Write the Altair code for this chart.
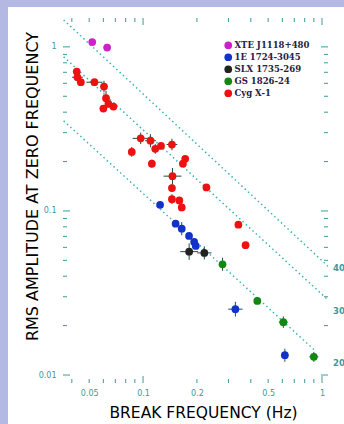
import altair as alt
import pandas as pd
import numpy as np

# ---------------- data ----------------
sources = ["XTE J1118+480", "1E 1724-3045", "SLX 1735-269", "GS 1826-24", "Cyg X-1"]
colors = ["#cc22cc", "#1133cc", "#222222", "#118811", "#ee1111"]
sizes = [60, 60, 8, 60, 60]

xte_f = [0.052, 0.063]
xte_rms = [1.07, 0.99]
xte_xe = [0.012, 0.012]
xte_ye = [0.015, 0.02]

cyg_f = [0.0426, 0.043, 0.0449, 0.0535, 0.0605, 0.0621, 0.064, 0.0683, 0.060,
         0.097, 0.110, 0.117, 0.126, 0.145, 0.0865, 0.112, 0.172, 0.167, 0.146,
         0.145, 0.226, 0.145, 0.1595, 0.1645, 0.341, 0.374]
cyg_rms = [0.707, 0.653, 0.609, 0.609, 0.573, 0.487, 0.449, 0.433, 0.421,
           0.277, 0.268, 0.239, 0.249, 0.254, 0.229, 0.194, 0.208, 0.194, 0.163,
           0.138, 0.139, 0.118, 0.116, 0.105, 0.0825, 0.0618]
cyg_xe = [0.01, 0.03, 0.01, 0.045, 0.02, 0.015, 0.015, 0.01, 0.01, 0.045, 0.03,
          0.02, 0.015, 0.03, 0.015, 0.015, 0.01, 0.01, 0.05, 0.01, 0.01, 0.01,
          0.01, 0.01, 0.01, 0.01]
cyg_ye = [0.015, 0.015, 0.02, 0.02, 0.035, 0.045, 0.02, 0.015, 0.015, 0.035,
          0.04, 0.03, 0.02, 0.035, 0.03, 0.025, 0.015, 0.015, 0.05, 0.025, 0.015,
          0.03, 0.015, 0.015, 0.015, 0.01]

e1e_f = [0.1245, 0.152, 0.1645, 0.1807, 0.193, 0.197, 0.328, 0.62]
e1e_rms = [0.109, 0.0837, 0.078, 0.0704, 0.0647, 0.0612, 0.0252, 0.0132]
e1e_xe = [0.01, 0.01, 0.015, 0.01, 0.01, 0.01, 0.04, 0.02]
e1e_ye = [0.01, 0.015, 0.04, 0.015, 0.01, 0.01, 0.045, 0.04]

slx_f = [0.181, 0.22]
slx_rms = [0.0565, 0.0555]
slx_xe = [0.05, 0.04]
slx_ye = [0.05, 0.04]

gs_f = [0.278, 0.435, 0.608, 0.90]
gs_rms = [0.0473, 0.0283, 0.021, 0.0129]
gs_xe = [0.01, 0.01, 0.025, 0.025]
gs_ye = [0.04, 0.01, 0.035, 0.03]

# dotted reference lines (end points)
line_id = ["A", "A", "B", "B", "C", "C"]
line_f = [0.036, 1.08, 0.036, 1.08, 0.036, 0.92]
line_rms = [1.46, 0.046, 0.87, 0.0287, 0.354, 0.0140]

x_labels = [0.05, 0.1, 0.2, 0.5, 1]
y_labels = [0.01, 0.1, 1]
x_major = [0.1, 1]
x_minor = [0.04, 0.05, 0.06, 0.07, 0.08, 0.09, 0.2, 0.3, 0.4, 0.5, 0.6, 0.7, 0.8, 0.9]
y_major = [0.01, 0.1, 1]
y_minor = [0.02, 0.03, 0.04, 0.05, 0.06, 0.07, 0.08, 0.09,
           0.2, 0.3, 0.4, 0.5, 0.6, 0.7, 0.8, 0.9]
right_labels = ["40", "30", "20"]

# ---------------- tables ----------------
rows = []
for name, F, R, XE, YE in [
    ("XTE J1118+480", xte_f, xte_rms, xte_xe, xte_ye),
    ("Cyg X-1", cyg_f, cyg_rms, cyg_xe, cyg_ye),
    ("1E 1724-3045", e1e_f, e1e_rms, e1e_xe, e1e_ye),
    ("SLX 1735-269", slx_f, slx_rms, slx_xe, slx_ye),
    ("GS 1826-24", gs_f, gs_rms, gs_xe, gs_ye),
]:
    for f, r, xe, ye in zip(F, R, XE, YE):
        rows.append(dict(source=name, f=f, rms=r,
                         flo=f / 10 ** xe, fhi=f * 10 ** xe,
                         rlo=r / 10 ** ye, rhi=r * 10 ** ye))
pts = pd.DataFrame(rows)
lines = pd.DataFrame(dict(line=line_id, f=line_f, rms=line_rms))

W, H = 265, 365
XDOM = [0.0357, 1.08]
YDOM = [0.00894, 1.5]
TEAL = "#3a9c9c"

xs = alt.Scale(type="log", domain=XDOM, nice=False)
ys = alt.Scale(type="log", domain=YDOM, nice=False)

xaxis = alt.Axis(values=x_labels, format="~g", tickSize=0, domain=False, grid=False,
                 labelColor=TEAL, labelFont="DejaVu Sans", labelFontSize=8,
                 labelPadding=6, labelFlush=False, zindex=1,
                 title="BREAK FREQUENCY (Hz)", titleFont="DejaVu Sans",
                 titleFontSize=15.5, titleFontWeight="normal", titleColor="#000000",
                 titleX=140, titleY=29, titleAlign="center", titleBaseline="middle")
yaxis = alt.Axis(values=y_labels, format="~g", tickSize=0, domain=False, grid=False,
                 labelColor=TEAL, labelFont="DejaVu Sans", labelFontSize=8,
                 labelPadding=7, zindex=1,
                 title="RMS AMPLITUDE AT ZERO FREQUENCY", titleFont="DejaVu Sans",
                 titleFontSize=16, titleFontWeight="normal", titleColor="#000000",
                 titleX=-31, titleY=168, titleAngle=270, titleAlign="center",
                 titleBaseline="middle")

# white panel behind everything
panel = alt.Chart(pd.DataFrame({"a": [0]})).mark_rect(
    color="white", clip=False).encode(
    x=alt.value(-55), x2=alt.value(281), y=alt.value(-11), y2=alt.value(406))

ref_lines = alt.Chart(lines).mark_line(
    color="#3cb4b4", strokeDash=[1.5, 3], strokeWidth=1.5, clip=True).encode(
    x=alt.X("f:Q", scale=xs, axis=xaxis),
    y=alt.Y("rms:Q", scale=ys, axis=yaxis),
    detail="line:N")

ebx = alt.Chart(pts).mark_rule(color="#1d4d4d", strokeWidth=1).encode(
    x=alt.X("flo:Q", scale=xs), x2="fhi:Q", y=alt.Y("rms:Q", scale=ys))
eby = alt.Chart(pts).mark_rule(color="#1d4d4d", strokeWidth=1).encode(
    x=alt.X("f:Q", scale=xs), y=alt.Y("rlo:Q", scale=ys), y2="rhi:Q")

legend = alt.Legend(orient="none", legendX=161, legendY=23, title=None,
                    labelFont="DejaVu Serif", labelFontSize=8.5, labelColor="#222244",
                    labelFontWeight="bold", symbolType="circle", symbolStrokeWidth=0,
                    rowPadding=3, labelOffset=2, padding=0)

points = alt.Chart(pts).mark_point(filled=True, opacity=1).encode(
    x=alt.X("f:Q", scale=xs),
    y=alt.Y("rms:Q", scale=ys),
    color=alt.Color("source:N", scale=alt.Scale(domain=sources, range=colors),
                    legend=legend),
    size=alt.Size("source:N", scale=alt.Scale(domain=sources, range=sizes),
                  legend=legend),
)

def ticks_x(vals, L):
    d = pd.DataFrame({"v": vals})
    b = alt.Chart(d).mark_rule(color=TEAL, strokeWidth=1).encode(
        x=alt.X("v:Q", scale=xs), y=alt.value(H), y2=alt.value(H - L))
    t = alt.Chart(d).mark_rule(color=TEAL, strokeWidth=1).encode(
        x=alt.X("v:Q", scale=xs), y=alt.value(0), y2=alt.value(L))
    return b + t

def ticks_y(vals, L):
    d = pd.DataFrame({"v": vals})
    l = alt.Chart(d).mark_rule(color=TEAL, strokeWidth=1).encode(
        y=alt.Y("v:Q", scale=ys), x=alt.value(0), x2=alt.value(L))
    r = alt.Chart(d).mark_rule(color=TEAL, strokeWidth=1).encode(
        y=alt.Y("v:Q", scale=ys), x=alt.value(W), x2=alt.value(W - L))
    return l + r

rl = pd.DataFrame({"t": right_labels})

def right_label(lbl, py):
    return alt.Chart(rl).mark_text(
        align="left", baseline="middle", font="DejaVu Sans", fontSize=8.5,
        fontWeight="bold", color=TEAL, clip=False).encode(
        text="t:N", x=alt.value(270), y=alt.value(py)
    ).transform_filter(f"datum.t == '{lbl}'")

chart = alt.layer(
    panel, ref_lines, ebx, eby, points,
    ticks_x(x_major, 7), ticks_x(x_minor, 4),
    ticks_y(y_major, 7), ticks_y(y_minor, 4),
    right_label("40", 250), right_label("30", 293), right_label("20", 345),
).resolve_scale(color="shared").properties(
    width=W, height=H,
    autosize=alt.AutoSizeParams(type="none"),
    padding={"left": 63, "top": 18, "right": 16, "bottom": 41},
    background="#b4b9e4",
).configure_view(stroke=TEAL, strokeWidth=1.5)

chart.save("out.html", embed_options={"renderer": "svg", "actions": False})
